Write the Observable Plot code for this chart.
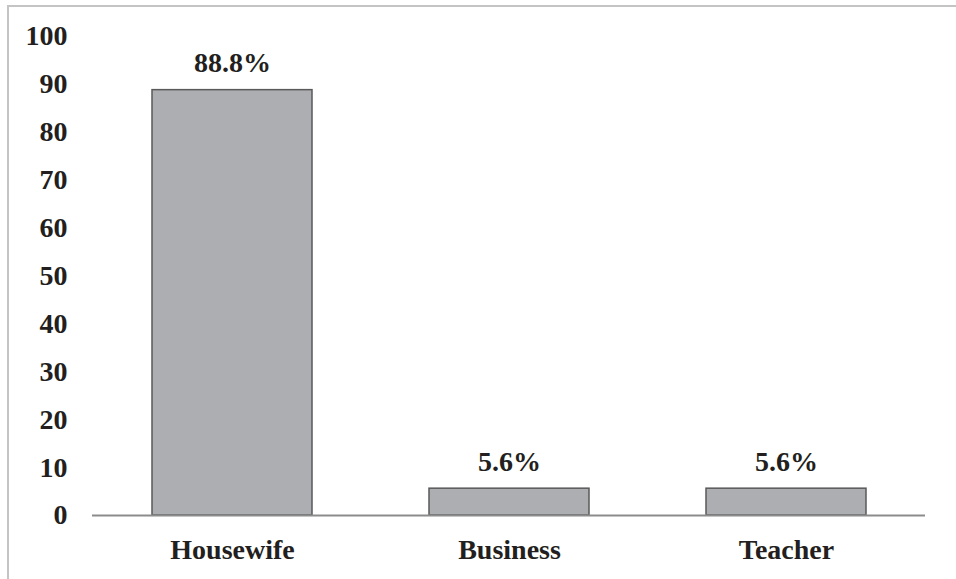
<!DOCTYPE html>
<html>
<head>
<meta charset="utf-8">
<script src="https://cdn.jsdelivr.net/npm/d3@7"></script>
<script src="https://cdn.jsdelivr.net/npm/@observablehq/plot@0.6"></script>
<style>
  html, body { margin: 0; padding: 0; background: #fff; }
  #wrap { position: relative; width: 956px; height: 579px; overflow: hidden; }
  #frame { position: absolute; left: 7px; top: 5px; width: 960px; height: 600px;
           border-top: 2px solid #c4c4c4; border-left: 2px solid #c4c4c4; pointer-events: none; }
  #wrap svg { position: absolute; left: 0; top: 0; }
  #wrap svg text { font-family: "Liberation Serif", "Times New Roman", serif !important; font-weight: bold; }
</style>
</head>
<body>
<div id="wrap"><div id="frame"></div></div>
<script>
const categories = ["Housewife", "Business", "Teacher"];
const values = [88.8, 5.6, 5.6];
const yTicks = [0, 10, 20, 30, 40, 50, 60, 70, 80, 90, 100];

const data = categories.map((c, i) => ({category: c, value: values[i]}));

const font = {fontFamily: "Liberation Serif", fontWeight: "bold", fontSize: 28};

const chart = Plot.plot({
  width: 956,
  height: 579,
  marginLeft: 92,
  marginRight: 31,
  marginTop: 36,
  marginBottom: 64,
  style: {fontFamily: "Liberation Serif", color: "#231f20", background: "transparent"},
  x: {domain: categories, paddingInner: 0.424, paddingOuter: 0.212, label: null},
  y: {domain: [0, 100], label: null},
  marks: [
    Plot.barY(data, {x: "category", y: "value", fill: "#adaeb2", stroke: "#595959", strokeWidth: 1.5}),
    Plot.ruleY([0], {stroke: "#8c8c8c", strokeWidth: 1.8}),
    Plot.ruleX([0], {x: () => null, frameAnchor: "left", y1: 0, y2: 100, stroke: "#8c8c8c", strokeWidth: 1.8}),
    Plot.axisY({ticks: yTicks, tickSize: 0, tickPadding: 25, label: null, ...font, fill: "#231f20"}),
    Plot.axisX({tickSize: 0, tickPadding: 24, label: null, ...font, fill: "#231f20"}),
    Plot.text(data, {x: "category", y: "value", text: d => `${d.value}%`, dy: -27, lineAnchor: "middle", ...font, fill: "#231f20"})
  ]
});
document.getElementById("wrap").appendChild(chart);
</script>
</body>
</html>
